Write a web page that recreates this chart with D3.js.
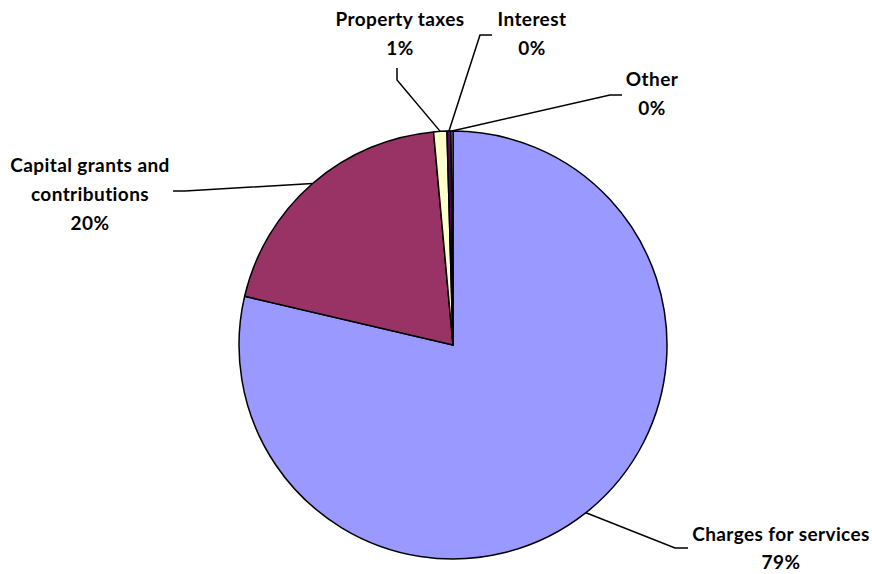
<!DOCTYPE html>
<html>
<head>
<meta charset="utf-8">
<script src="https://cdn.jsdelivr.net/npm/d3@7/dist/d3.min.js"></script>
<style>
  html, body { margin: 0; padding: 0; background: #ffffff; }
  svg { display: block; }
  .lbl { font-family: Lato, "Open Sans", sans-serif; font-weight: 700; font-size: 19px; letter-spacing: 0.4px; fill: #000; }
</style>
</head>
<body>
<svg id="chart" width="872" height="574"></svg>
<script>
// Revenue sources (percent of total)
const categories = ["Charges for services", "Capital grants and contributions", "Property taxes", "Interest", "Other"];
const values = [78.7, 19.9, 1.0, 0.3, 0.15];
const colors = ["#9999FF", "#993366", "#FFFFCC", "#660066", "#CCFFFF"];

// Label lines as drawn (text broken over lines)
const labelLines = [
  ["Charges for services"],
  ["Capital grants and", "contributions"],
  ["Property taxes"],
  ["Interest"],
  ["Other"]
];

// Label placement: text centre x, first baseline y, leader elbow and end point
const labelLayout = [
  { x: 781, y: 541, elbow: [675, 548], end: [688, 548] },
  { x: 90,  y: 172, elbow: [185, 191], end: [173, 191] },
  { x: 400, y: 26,  elbow: [397, 80],  end: [397, 68] },
  { x: 532, y: 26,  elbow: [480, 35],  end: [492, 35] },
  { x: 652, y: 86,  elbow: [610, 95],  end: [622, 95] }
];

const cx = 453, cy = 345, radius = 214;

const svg = d3.select("#chart");
const data = categories.map((c, i) => ({ name: c, value: values[i], color: colors[i], lines: labelLines[i], layout: labelLayout[i] }));

const pie = d3.pie().sort(null).value(d => d.value);
const arc = d3.arc().innerRadius(0).outerRadius(radius);
const arcs = pie(data);

const g = svg.append("g").attr("transform", `translate(${cx},${cy})`);

g.selectAll("path.slice")
  .data(arcs)
  .join("path")
  .attr("class", "slice")
  .attr("d", arc)
  .attr("fill", d => d.data.color)
  .attr("stroke", "#000")
  .attr("stroke-width", 1.5)
  .attr("stroke-linejoin", "round");

// Leader lines from the slice rim to each label
const fmt = v => Math.round(v) + "%";
arcs.forEach((a, idx) => {
  const mid = (a.startAngle + a.endAngle) / 2;
  const px = cx + radius * Math.sin(mid);
  const py = cy - radius * Math.cos(mid);
  const L = a.data.layout;
  svg.append("polyline")
    .attr("points", [[px, py], L.elbow, L.end].map(p => p.join(",")).join(" "))
    .attr("fill", "none")
    .attr("stroke", "#000")
    .attr("stroke-width", 1.5);

  const gap = idx === 0 ? 28 : 29;
  const t = svg.append("text")
    .attr("class", "lbl")
    .attr("text-anchor", "middle")
    .attr("x", L.x)
    .attr("y", L.y);
  const lines = a.data.lines.concat([fmt(a.data.value)]);
  lines.forEach((s, i) => {
    t.append("tspan").attr("x", L.x).attr("dy", i === 0 ? 0 : gap).text(s);
  });
});
</script>
</body>
</html>
